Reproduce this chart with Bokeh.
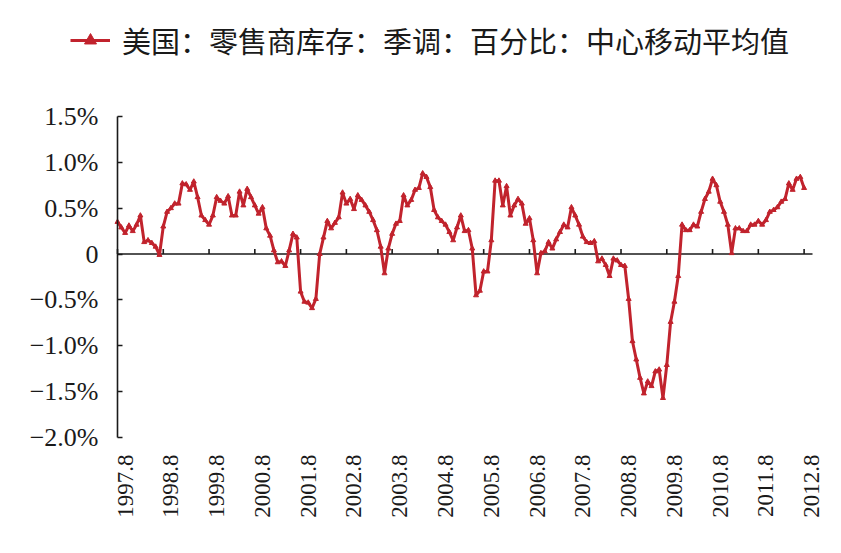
import math
from bokeh.plotting import figure
from bokeh.models import Range1d, FixedTicker, Legend, LegendItem
from bokeh.embed import file_html
from bokeh.resources import INLINE

series_name = "美国：零售商库存：季调：百分比：中心移动平均值"

# monthly values (%), starting 1997.8, one row per 12 months
values = [
    0.35, 0.29, 0.23, 0.31, 0.25, 0.32, 0.42, 0.13, 0.15, 0.12, 0.08, -0.01,
    0.30, 0.46, 0.50, 0.55, 0.55, 0.77, 0.76, 0.70, 0.79, 0.62, 0.42, 0.37,
    0.32, 0.42, 0.62, 0.58, 0.55, 0.63, 0.42, 0.42, 0.68, 0.53, 0.71, 0.62,
    0.53, 0.44, 0.51, 0.28, 0.20, 0.04, -0.09, -0.08, -0.13, 0.04, 0.22, 0.18,
    -0.41, -0.52, -0.53, -0.59, -0.49, 0.00, 0.18, 0.36, 0.28, 0.34, 0.40, 0.67,
    0.55, 0.60, 0.49, 0.64, 0.59, 0.53, 0.46, 0.37, 0.26, 0.08, -0.21, 0.06,
    0.22, 0.33, 0.36, 0.64, 0.53, 0.59, 0.70, 0.72, 0.88, 0.84, 0.73, 0.48,
    0.40, 0.36, 0.32, 0.24, 0.15, 0.29, 0.42, 0.25, 0.26, 0.06, -0.45, -0.40,
    -0.19, -0.19, 0.15, 0.80, 0.80, 0.53, 0.74, 0.42, 0.53, 0.60, 0.55, 0.33,
    0.39, 0.15, -0.21, 0.01, 0.03, 0.13, 0.06, 0.16, 0.24, 0.32, 0.29, 0.51,
    0.42, 0.32, 0.19, 0.13, 0.12, 0.14, -0.08, -0.05, -0.12, -0.24, -0.05, -0.07,
    -0.12, -0.13, -0.49, -0.95, -1.15, -1.35, -1.52, -1.39, -1.44, -1.28, -1.26, -1.57,
    -1.21, -0.74, -0.52, -0.24, 0.32, 0.26, 0.26, 0.32, 0.30, 0.46, 0.60, 0.68,
    0.82, 0.75, 0.57, 0.46, 0.32, 0.01, 0.28, 0.28, 0.25, 0.25, 0.32, 0.32,
    0.36, 0.32, 0.37, 0.46, 0.48, 0.51, 0.57, 0.60, 0.77, 0.70, 0.82, 0.84,
    0.72,
]

x_tick_labels = ["1997.8", "1998.8", "1999.8", "2000.8", "2001.8", "2002.8",
                 "2003.8", "2004.8", "2005.8", "2006.8", "2007.8", "2008.8",
                 "2009.8", "2010.8", "2011.8", "2012.8"]
y_ticks = [-2.0, -1.5, -1.0, -0.5, 0.0, 0.5, 1.0, 1.5]
y_tick_labels = ["\u22122.0%", "\u22121.5%", "\u22121.0%", "\u22120.5%", "0",
                 "0.5%", "1.0%", "1.5%"]

RED = "#C1232D"
INK = "#1a1a1a"
SERIF = "Liberation Serif"

# layout geometry (pixels)
W, H = 841, 553
AXIS_X_PX = 117      # where the value axis sits
PLOT_RIGHT_PX = 812  # end of the category axis
TOP_PX = 116         # pixel row of the top value (1.5%)
BOTTOM_PX = 437      # pixel row of the bottom value (-2.0%)
X_END = 182.2        # months shown up to the end of the category axis

months = list(range(len(values)))
tick_months = [12 * i for i in range(len(x_tick_labels))]
label_pos = [t + 2.0 for t in tick_months]

px_per_month = (PLOT_RIGHT_PX - AXIS_X_PX) / X_END
x_start = -AXIS_X_PX / px_per_month
x_stop = X_END + (W - PLOT_RIGHT_PX) / px_per_month
y_lo, y_hi = y_ticks[0], y_ticks[-1]
px_per_unit = (BOTTOM_PX - TOP_PX) / (y_hi - y_lo)
y_top = y_hi + TOP_PX / px_per_unit
y_bottom = y_lo - (H - BOTTOM_PX) / px_per_unit
tick_len = 5 / px_per_unit

p = figure(width=W, height=H,
           x_range=Range1d(x_start, x_stop), y_range=Range1d(y_bottom, y_top),
           output_backend="svg", toolbar_location=None,
           min_border_left=0, min_border_right=0,
           min_border_top=0, min_border_bottom=0)
p.outline_line_color = None
p.grid.visible = False
p.background_fill_color = "white"
p.border_fill_color = "white"

# category labels, hung under the bottom value
xa = p.xaxis[0]
xa.fixed_location = y_lo
xa.ticker = FixedTicker(ticks=label_pos)
xa.major_label_overrides = {pos: lab for pos, lab in zip(label_pos, x_tick_labels)}
xa.axis_line_color = None
xa.major_tick_line_color = None
xa.minor_tick_line_color = None
xa.major_label_orientation = math.pi / 2
xa.major_label_standoff = 11
xa.major_label_text_font = SERIF
xa.major_label_text_font_size = "23px"
xa.major_label_text_color = INK

# value axis fixed at the first month
ya = p.yaxis[0]
ya.fixed_location = 0
ya.bounds = (y_lo, y_hi)
ya.ticker = FixedTicker(ticks=y_ticks)
ya.major_label_overrides = {t: lab for t, lab in zip(y_ticks, y_tick_labels)}
ya.axis_line_color = INK
ya.axis_line_width = 1.6
ya.major_tick_line_color = INK
ya.major_tick_line_width = 1.6
ya.major_tick_in = 5
ya.major_tick_out = 0
ya.minor_tick_line_color = None
ya.major_label_standoff = 19
ya.major_label_text_font = SERIF
ya.major_label_text_font_size = "26px"
ya.major_label_text_color = INK

# zero line with yearly tick marks pointing up
p.segment(x0=[0], y0=[0], x1=[X_END], y1=[0], line_color=INK, line_width=1.6)
p.segment(x0=tick_months, y0=[0] * len(tick_months),
          x1=tick_months, y1=[tick_len] * len(tick_months),
          line_color=INK, line_width=1.6)

r_line = p.line(months, values, line_color=RED, line_width=3)
r_pts = p.scatter(months, values, marker="triangle", size=5,
                  fill_color=RED, line_color=RED)

legend = Legend(items=[LegendItem(label=series_name, renderers=[r_line, r_pts])],
                location=(70, H - 61), orientation="horizontal",
                glyph_width=40, glyph_height=30, label_standoff=12,
                padding=0, margin=0, spacing=0,
                border_line_alpha=0, background_fill_alpha=0,
                label_text_font="Noto Sans CJK SC", label_text_font_size="29px",
                label_text_color=INK)
p.add_layout(legend)

open("out.html", "w").write(file_html(p, INLINE))
